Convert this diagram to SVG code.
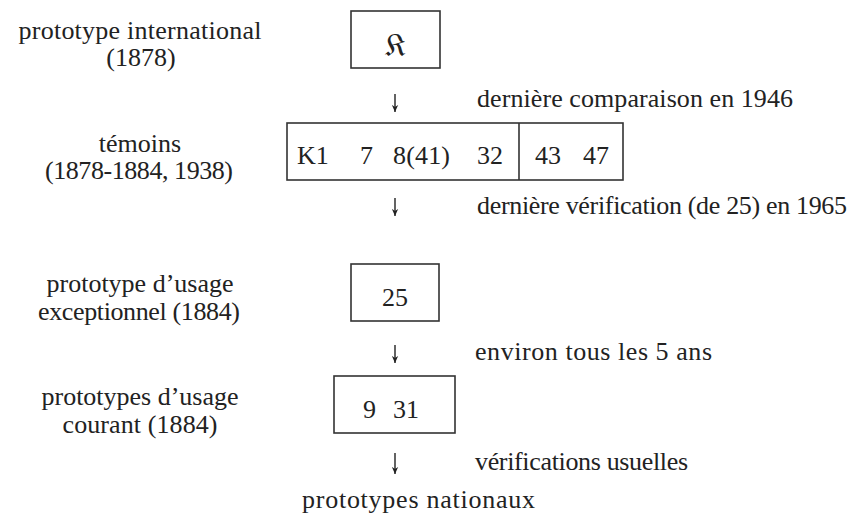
<svg xmlns="http://www.w3.org/2000/svg" width="850" height="520" viewBox="0 0 850 520">
  <style>
    text { font-family: "Liberation Serif", "DejaVu Serif", serif; font-size: 26px; fill: #222; }
    .c { text-anchor: middle; }
    .box { fill: none; stroke: #333; stroke-width: 1.6; }
    .conn { stroke: #222; stroke-width: 1.4; fill: none; }
  </style>
  <defs>
    <marker id="ah" viewBox="0 0 10 10" refX="10" refY="5" markerWidth="7" markerHeight="7" markerUnits="userSpaceOnUse" orient="auto">
      <path d="M0,0.5 L10,5 L0,9.5 L3,5 Z" fill="#222"/>
    </marker>
  </defs>
  <rect width="850" height="520" fill="#fff"/>

  <g id="label-international">
    <text class="c" x="140" y="39" textLength="243">prototype international</text>
    <text class="c" x="141" y="66">(1878)</text>
  </g>
  <g id="node-K">
    <rect class="box" x="351" y="11" width="89" height="57"/>
    <text class="c" x="395" y="56" style="font-family: 'DejaVu Serif', 'DejaVu Sans', serif; font-size: 32px;">𝔎</text>
  </g>

  <g id="label-temoins">
    <text class="c" x="140" y="152">témoins</text>
    <text class="c" x="139" y="179" textLength="188">(1878-1884, 1938)</text>
  </g>
  <g id="node-temoins">
    <rect class="box" x="287" y="123" width="336" height="57"/>
    <line class="box" x1="519" y1="123" x2="519" y2="180"/>
    <text x="297" y="164">K1</text>
    <text x="360" y="164">7</text>
    <text x="393" y="164" textLength="57">8(41)</text>
    <text x="477" y="164">32</text>
    <text x="535" y="164">43</text>
    <text x="583" y="164">47</text>
  </g>

  <g id="label-exceptionnel">
    <text class="c" x="140" y="292" textLength="187">prototype d’usage</text>
    <text class="c" x="139" y="320" textLength="202">exceptionnel (1884)</text>
  </g>
  <g id="node-25">
    <rect class="box" x="351" y="264" width="88" height="57"/>
    <text class="c" x="395" y="306">25</text>
  </g>

  <g id="label-courant">
    <text class="c" x="140" y="405" textLength="197">prototypes d’usage</text>
    <text class="c" x="140" y="433" textLength="155">courant (1884)</text>
  </g>
  <g id="node-9-31">
    <rect class="box" x="334" y="376" width="121" height="57"/>
    <text x="363" y="418">9</text>
    <text x="393" y="418">31</text>
  </g>

  <g id="node-nationaux">
    <text x="302" y="508" textLength="233">prototypes nationaux</text>
  </g>

  <g id="connectors">
    <line class="conn" x1="395" y1="94" x2="395" y2="112" marker-end="url(#ah)"/>
    <line class="conn" x1="395" y1="198" x2="395" y2="216" marker-end="url(#ah)"/>
    <line class="conn" x1="395" y1="345" x2="395" y2="363" marker-end="url(#ah)"/>
    <line class="conn" x1="395" y1="453" x2="395" y2="474" marker-end="url(#ah)"/>
    <text x="477" y="107" textLength="316">dernière comparaison en 1946</text>
    <text x="477" y="214" textLength="370">dernière vérification (de 25) en 1965</text>
    <text x="475" y="360" textLength="237">environ tous les 5 ans</text>
    <text x="475" y="470" textLength="213">vérifications usuelles</text>
  </g>
</svg>
